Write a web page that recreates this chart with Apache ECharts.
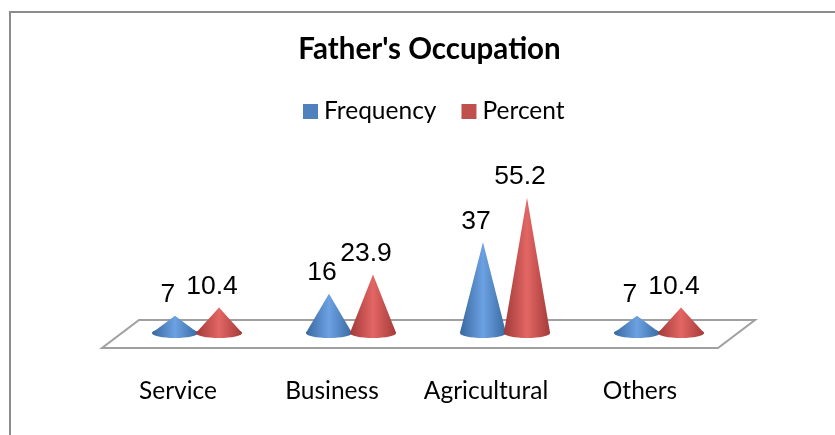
<!DOCTYPE html>
<html><head><meta charset="utf-8">
<style>html,body{margin:0;padding:0;background:#fff}#c{width:835px;height:435px}</style>
<script src="https://cdn.jsdelivr.net/npm/echarts@6/dist/echarts.min.js"></script>
</head><body><div id="c"></div>
<script>
var categories = ['Service', 'Business', 'Agricultural', 'Others'];
var frequency = [7, 16, 37, 7];
var percent = [10.4, 23.9, 55.2, 10.4];
var titleText = "Father's Occupation";

var chart = echarts.init(document.getElementById('c'), null, {renderer: 'canvas'});

function grad(edgeL, mid, edgeR) {
  return new echarts.graphic.LinearGradient(0, 0, 1, 0, [
    {offset: 0, color: edgeL}, {offset: 0.5, color: mid}, {offset: 1, color: edgeR}
  ]);
}
function coneRender(shift, colors) {
  return function (params, api) {
    var idx = api.value(0), val = api.value(1);
    var band = api.size([1, 0])[0];
    var base = api.coord([idx, 0]), top = api.coord([idx, val]);
    var x = base[0] + shift * band, w = band * 0.15, h = 5;
    var y = base[1];
    var fill = grad(colors[0], colors[1], colors[2]);
    return {type: 'group', children: [
      {type: 'ellipse', shape: {cx: x, cy: y, rx: w, ry: h}, style: {fill: fill}},
      {type: 'polygon', shape: {points: [[x - w, y], [x, top[1]], [x + w, y]]}, style: {fill: fill}},
      {type: 'text', style: {text: String(val), x: x - 7, y: top[1] - 21, fill: '#000',
        font: '26.5px "Liberation Sans"', align: 'center', verticalAlign: 'middle'}}
    ]};
  };
}
function floorRender(params, api) {
  var band = api.size([1, 0])[0];
  var l = api.coord([0, 0]), r = api.coord([categories.length - 1, 0]);
  var x0 = l[0] - band / 2, x1 = r[0] + band / 2, y = l[1];
  return {type: 'polygon', shape: {points: [
    [x0 - 18, y + 15], [x1 - 18, y + 15], [x1 + 19, y - 13], [x0 + 19, y - 13]
  ]}, style: {fill: '#fff', stroke: '#a0a0a0', lineWidth: 2}};
}
function rows(vals) { return vals.map(function (v, i) { return [i, v]; }); }

chart.setOption({
  animation: false,
  backgroundColor: '#fff',
  title: {text: titleText, left: 424.5, top: 29, textAlign: 'center',
    textStyle: {fontFamily: 'Lato', fontWeight: 'bold', fontSize: 29.5, color: '#000'}},
  legend: {data: ['Frequency', 'Percent'], left: 298, top: 94, icon: 'rect',
    itemWidth: 15, itemHeight: 15, itemGap: 25,
    textStyle: {fontFamily: 'Lato', fontSize: 24.5, color: '#000', padding: [0, 0, 0, 1]}},
  grid: {left: 120, width: 616, top: 186, height: 147},
  xAxis: {type: 'category', data: categories,
    axisLine: {show: false}, axisTick: {show: false},
    axisLabel: {interval: 0, margin: 46, fontFamily: 'Lato', fontSize: 24.5, color: '#000', padding: [0, 38, 0, 0]}},
  yAxis: {type: 'value', min: 0, max: 60, show: false},
  series: [
    {type: 'custom', name: 'Floor', data: [[0, 0]], renderItem: floorRender, z: 1, silent: true},
    {type: 'custom', name: 'Frequency', data: rows(frequency), itemStyle: {color: '#4f81bd'}, z: 2,
      renderItem: coneRender(-0.143, ['#38689f', '#6ca1e2', '#396aa2'])},
    {type: 'custom', name: 'Percent', data: rows(percent), itemStyle: {color: '#c0504d'}, z: 3,
      renderItem: coneRender(0.143, ['#a23a38', '#e26664', '#a43b39'])}
  ],
  graphic: [{type: 'polyline', shape: {points: [[10, 440], [10, 12], [840, 12]]},
    style: {stroke: '#8c8c8c', lineWidth: 2, fill: null}, z: 10}]
});
</script></body></html>
